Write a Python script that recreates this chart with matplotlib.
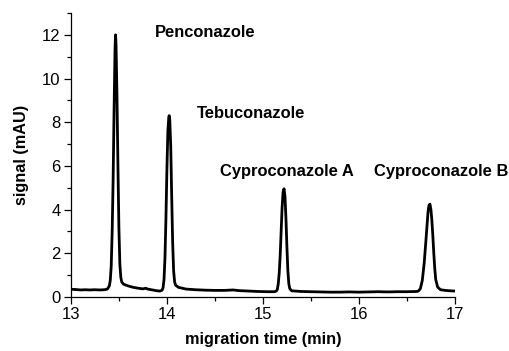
import matplotlib
matplotlib.use("Agg")
import matplotlib.pyplot as plt
from matplotlib.ticker import MultipleLocator
import numpy as np

plt.rcParams['font.family'] = ['Liberation Sans', 'DejaVu Sans']

# electropherogram trace, read point by point (time in min, signal in mAU)
time_min = [
    13.00, 13.05, 13.10, 13.15, 13.20, 13.25, 13.30, 13.35, 13.38, 13.40,
    13.41, 13.42, 13.43, 13.44, 13.45, 13.46, 13.465, 13.47, 13.48, 13.49,
    13.50, 13.51, 13.52, 13.53, 13.55, 13.60, 13.65, 13.70, 13.75, 13.78,
    13.80, 13.85, 13.90, 13.93, 13.95, 13.96, 13.97, 13.98, 13.99, 14.00,
    14.01, 14.02, 14.025, 14.03, 14.04, 14.05, 14.06, 14.07, 14.08, 14.09,
    14.12, 14.20, 14.30, 14.40, 14.50, 14.60, 14.69, 14.75, 14.85, 14.95,
    15.05, 15.12, 15.14, 15.15, 15.16, 15.17, 15.18, 15.19, 15.20, 15.21,
    15.22, 15.23, 15.24, 15.25, 15.26, 15.27, 15.28, 15.30, 15.40, 15.50,
    15.60, 15.70, 15.80, 15.90, 16.00, 16.10, 16.20, 16.30, 16.40, 16.50,
    16.60, 16.62, 16.64, 16.66, 16.68, 16.70, 16.71, 16.72, 16.73, 16.74,
    16.75, 16.76, 16.77, 16.78, 16.79, 16.80, 16.82, 16.85, 16.90, 16.95,
    17.00,
]
signal_mau = [
    0.35, 0.34, 0.32, 0.33, 0.32, 0.33, 0.32, 0.33, 0.36, 0.50,
    0.75, 1.40, 3.00, 5.40, 8.60, 11.40, 12.00, 11.60, 9.20, 6.00,
    3.20, 1.50, 0.90, 0.68, 0.58, 0.50, 0.44, 0.40, 0.37, 0.40,
    0.36, 0.32, 0.28, 0.27, 0.31, 0.42, 0.80, 1.80, 3.60, 5.80,
    7.60, 8.25, 8.30, 8.10, 6.90, 4.60, 2.50, 1.20, 0.70, 0.54,
    0.44, 0.36, 0.33, 0.31, 0.30, 0.30, 0.32, 0.29, 0.27, 0.25,
    0.24, 0.24, 0.27, 0.34, 0.60, 1.10, 1.90, 3.00, 4.10, 4.80,
    4.95, 4.60, 3.60, 2.30, 1.20, 0.60, 0.38, 0.28, 0.25, 0.24,
    0.23, 0.22, 0.22, 0.23, 0.22, 0.23, 0.24, 0.23, 0.24, 0.24,
    0.25, 0.27, 0.38, 0.75, 1.55, 2.70, 3.30, 3.90, 4.20, 4.25,
    4.00, 3.50, 2.80, 2.00, 1.30, 0.80, 0.45, 0.33, 0.30, 0.28,
    0.27,
]

# peak labels and where they sit (data coords)
peak_names = ['Penconazole', 'Tebuconazole', 'Cyproconazole A', 'Cyproconazole B']
label_t = [14.40, 14.88, 15.245, 16.86]
label_s = [12.1, 8.38, 5.74, 5.74]

fig = plt.figure(figsize=(5.10, 3.51), dpi=100)
ax = fig.add_axes([0.139, 0.154, 0.753, 0.809])

ax.plot(time_min, signal_mau, color='black', lw=2.0, solid_joinstyle='round')

for name, t, s in zip(peak_names, label_t, label_s):
    ax.text(t, s, name, ha='center', va='center', fontsize=11.9, fontweight='bold')

ax.set_xlim(13, 17)
ax.set_ylim(0, 13)
ax.xaxis.set_major_locator(MultipleLocator(1))
ax.xaxis.set_minor_locator(MultipleLocator(0.5))
ax.yaxis.set_major_locator(MultipleLocator(2))
ax.yaxis.set_minor_locator(MultipleLocator(1))
ax.tick_params(which='major', direction='out', length=5, width=0.9, labelsize=12, pad=2.5)
ax.tick_params(which='minor', direction='out', length=3, width=0.9)

for side in ['top', 'right']:
    ax.spines[side].set_visible(False)
for side in ['left', 'bottom']:
    ax.spines[side].set_linewidth(0.9)

ax.set_xlabel('migration time (min)', fontsize=11.7, fontweight='bold', labelpad=7)
ax.set_ylabel('signal (mAU)', fontsize=11.7, fontweight='bold', labelpad=9)

fig.savefig('out.png', dpi=100)
